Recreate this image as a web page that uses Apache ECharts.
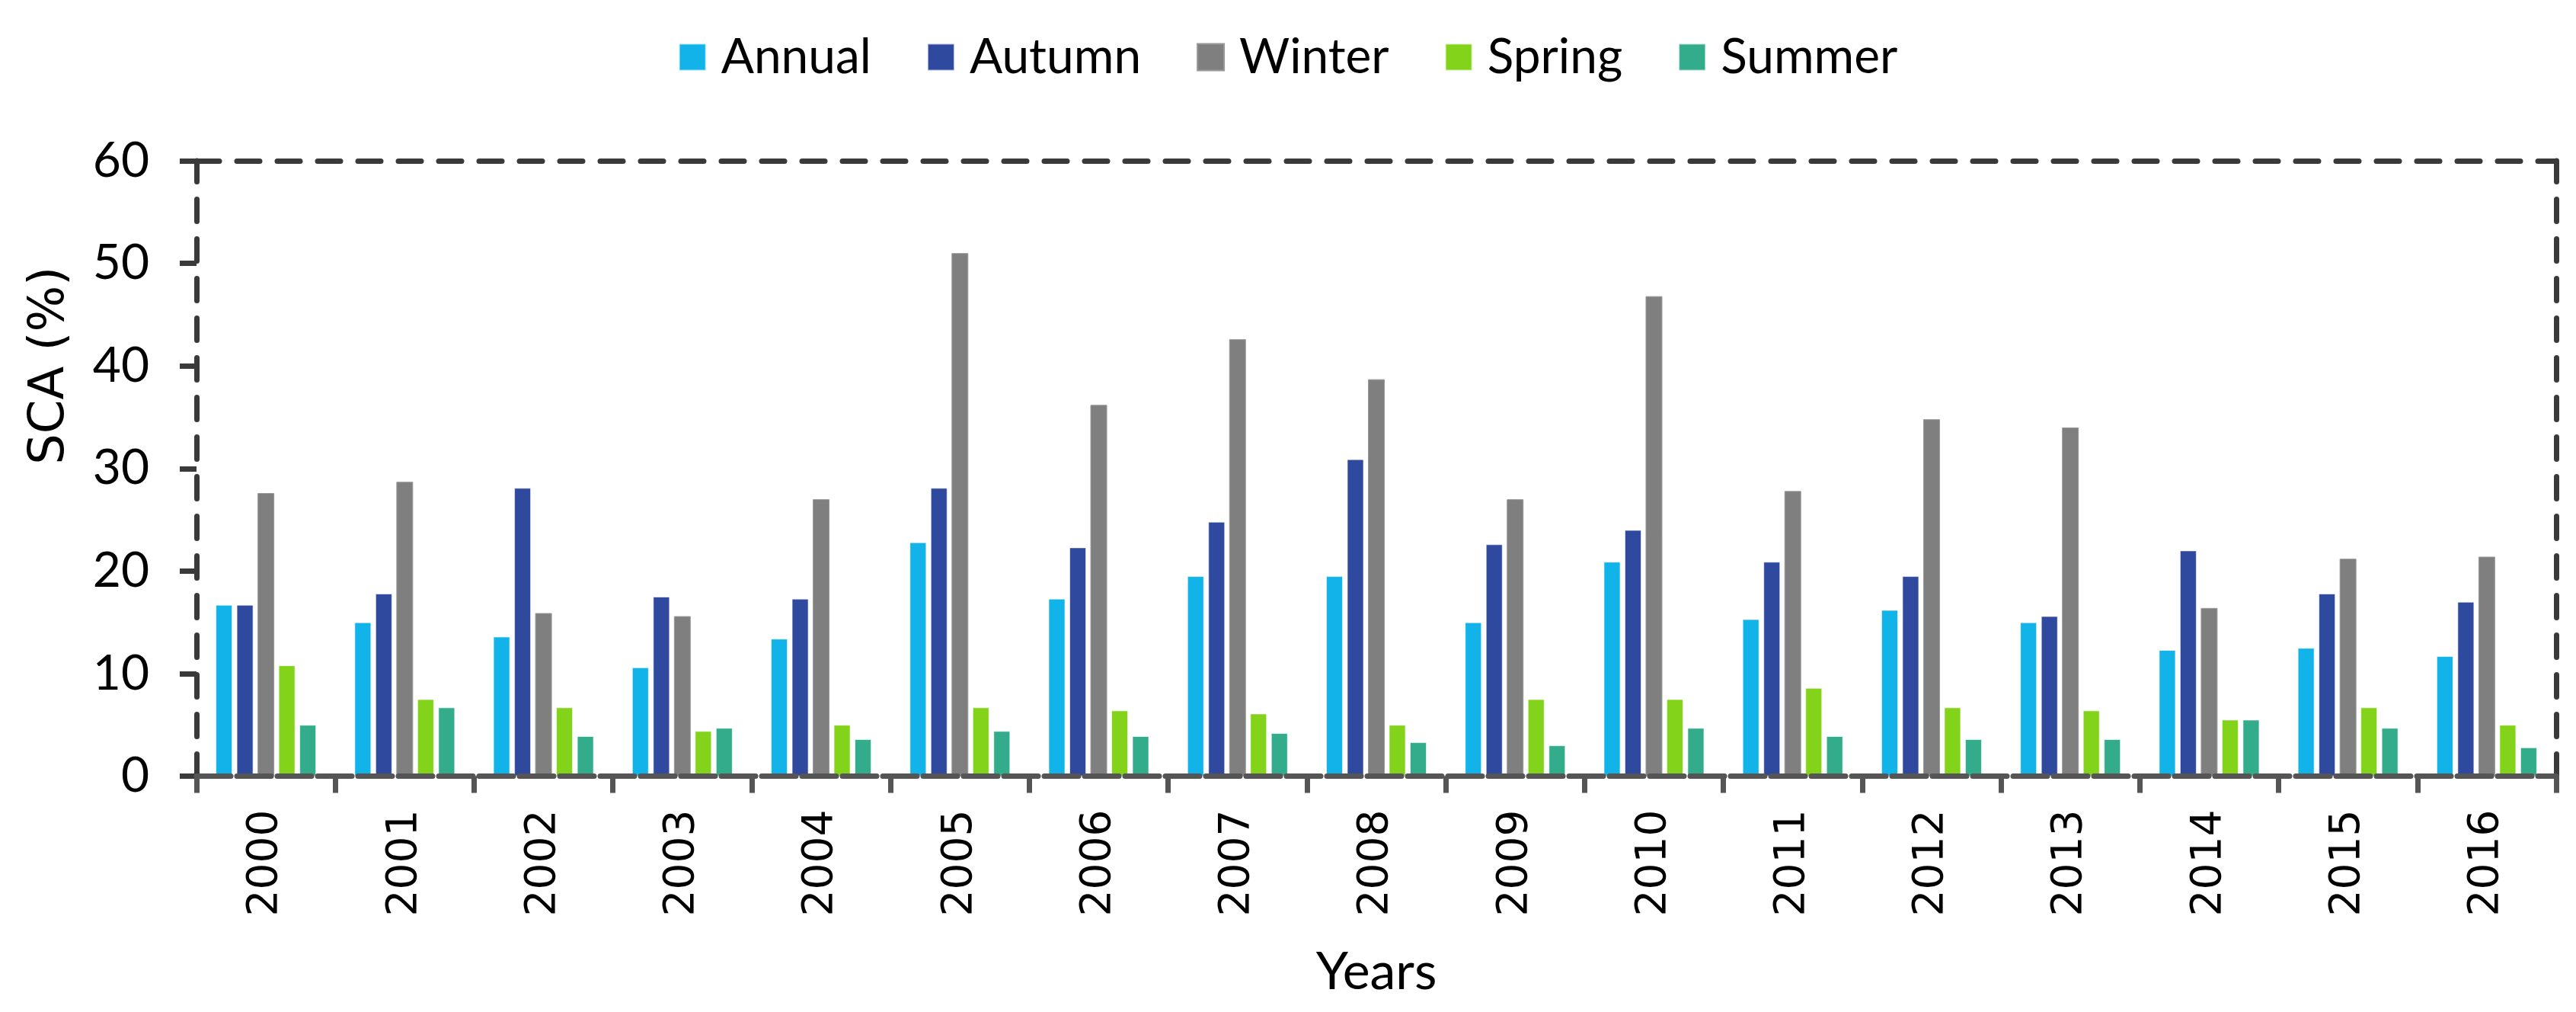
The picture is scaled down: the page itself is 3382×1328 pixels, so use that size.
<!DOCTYPE html>
<html>
<head>
<meta charset="utf-8">
<script src="https://cdn.jsdelivr.net/npm/echarts@6/dist/echarts.min.js"></script>
<style>
html,body{margin:0;padding:0;background:#fff;}
#chart{width:3382px;height:1328px;}
</style>
</head>
<body>
<div id="chart"></div>
<script>
const years = ['2000','2001','2002','2003','2004','2005','2006','2007','2008','2009','2010','2011','2012','2013','2014','2015','2016'];
const annual = [16.7,15.0,13.6,10.6,13.4,22.8,17.3,19.5,19.5,15.0,20.9,15.3,16.2,15.0,12.3,12.5,11.7];
const autumn = [16.7,17.8,28.1,17.5,17.3,28.1,22.3,24.8,30.9,22.6,24.0,20.9,19.5,15.6,22.0,17.8,17.0];
const winter = [27.6,28.7,15.9,15.6,27.0,51.0,36.2,42.6,38.7,27.0,46.8,27.8,34.8,34.0,16.4,21.2,21.4];
const spring = [10.8,7.5,6.7,4.4,5.0,6.7,6.4,6.1,5.0,7.5,7.5,8.6,6.7,6.4,5.5,6.7,5.0];
const summer = [5.0,6.7,3.9,4.7,3.6,4.4,3.9,4.2,3.3,3.0,4.7,3.9,3.6,3.6,5.5,4.7,2.8];
const yTicks = [0,10,20,30,40,50,60];

const colors = {Annual:'#12B3E9', Autumn:'#2F499F', Winter:'#7F7F7F', Spring:'#83D31A', Summer:'#33AC8C'};
const seriesData = [['Annual',annual],['Autumn',autumn],['Winter',winter],['Spring',spring],['Summer',summer]];

const chart = echarts.init(document.getElementById('chart'), null, {renderer:'canvas'});
chart.setOption({
  animation:false,
  backgroundColor:'#fff',
  legend:{
    top:38, left:'center',
    itemWidth:35, itemHeight:35, itemGap:73,
    icon:'rect',
    textStyle:{fontFamily:'Lato', fontSize:64, color:'#000', padding:[0,0,0,15]},
    data:seriesData.map(s=>s[0])
  },
  grid:{left:258, right:26, top:211, bottom:309.5, containLabel:false},
  xAxis:[{
    type:'category', data:years, position:'bottom',
    name:'Years', nameLocation:'middle', nameGap:224,
    nameTextStyle:{fontFamily:'Lato', fontSize:68, color:'#000'},
    axisLine:{show:true, onZero:false, lineStyle:{color:'#555', width:7, type:[45,8]}},
    axisTick:{show:true, alignWithLabel:false, length:22, lineStyle:{color:'#555', width:7}},
    axisLabel:{rotate:90, margin:44, fontFamily:'DejaVu Sans', fontSize:55, color:'#000', interval:0},
    z:5
  },{
    type:'category', data:years, position:'top',
    axisLine:{show:true, onZero:false, lineStyle:{color:'#3A3A3A', width:7, type:[30,23]}},
    axisTick:{show:false}, axisLabel:{show:false}
  }],
  yAxis:[{
    type:'value', min:0, max:60, interval:10,
    name:'SCA (%)', nameLocation:'middle', nameGap:160,
    nameTextStyle:{fontFamily:'DejaVu Sans', fontSize:64, color:'#000', padding:[0,0,0,270]},
    axisLine:{show:true, onZero:false, lineStyle:{color:'#3A3A3A', width:7, type:[29,23]}},
    axisTick:{show:true, length:22, lineStyle:{color:'#3A3A3A', width:7}},
    axisLabel:{margin:62, fontFamily:'Lato', fontSize:64, color:'#000',
      formatter:v=>yTicks.includes(v)?String(v):''},
    splitLine:{show:false}
  },{
    type:'value', min:0, max:60, interval:10, position:'right',
    axisLine:{show:true, onZero:false, lineStyle:{color:'#3A3A3A', width:7, type:[29,23]}},
    axisTick:{show:false}, axisLabel:{show:false}, splitLine:{show:false}
  }],
  series:seriesData.map(([name,data])=>({
    name, type:'bar', data, xAxisIndex:0, yAxisIndex:0,
    barWidth:22, barGap:'25%',
    itemStyle:{color:colors[name], borderColor:name==='Winter'?'#999':'rgba(255,255,255,0.6)', borderWidth:1},
    z:2
  }))
});
</script>
</body>
</html>
